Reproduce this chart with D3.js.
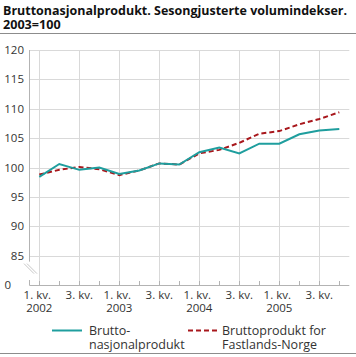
<!DOCTYPE html>
<html><head><meta charset="utf-8">
<script src="https://cdn.jsdelivr.net/npm/d3@7"></script>
<style>
body{margin:0;background:#fff;}
svg{display:block;font-family:"Open Sans",sans-serif;}
</style></head>
<body><svg id="c" width="356" height="357"></svg>
<script>
const quarters = ["2002K1","2002K2","2002K3","2002K4","2003K1","2003K2","2003K3","2003K4","2004K1","2004K2","2004K3","2004K4","2005K1","2005K2","2005K3","2005K4"];
const bnp = [98.4,100.6,99.6,100.0,98.9,99.5,100.7,100.5,102.6,103.4,102.4,104.05,104.05,105.65,106.3,106.55];
const fastland = [98.8,99.6,100.1,99.7,98.7,99.5,100.7,100.5,102.4,103.0,104.2,105.75,106.2,107.35,108.25,109.4];
const yTicks = [85,90,95,100,105,110,115,120];
const xLabelQuarter = {"2002K1":["1. kv.","2002"],"2002K3":["3. kv."],"2003K1":["1. kv.","2003"],"2003K3":["3. kv."],"2004K1":["1. kv.","2004"],"2004K3":["3. kv."],"2005K1":["1. kv.","2005"],"2005K3":["3. kv."]};
const seriesNames = [["Brutto-","nasjonalprodukt"],["Bruttoprodukt for","Fastlands-Norge"]];
const titleLines = ["Bruttonasjonalprodukt. Sesongjusterte volumindekser.","2003=100"];

const svg = d3.select("#c");
const x = d3.scaleBand().domain(quarters).range([29.3, 349.3]).paddingInner(0).paddingOuter(0);
const xc = q => x(q) + x.bandwidth()/2;
const y = d3.scaleLinear().domain([80,120]).range([285, 50]);
const gridC = "#d9d9d9", axisC = "#b3b3b3", textC = "#333";

// title (one text element, two tspans)
const tt = svg.append("text").attr("font-size", 12.6).attr("font-weight", "bold").attr("fill", "#111");
titleLines.forEach((d,i)=>{
  const ts = tt.append("tspan").attr("x", 3).attr("y", 15+i*14).text(d);
  if(i===0) ts.attr("textLength",344).attr("lengthAdjust","spacingAndGlyphs");
});
svg.append("line").attr("x1",0).attr("x2",356).attr("y1",33.5).attr("y2",33.5).attr("stroke","#8c8c8c").attr("stroke-width",1);
svg.append("line").attr("x1",0).attr("x2",356).attr("y1",353.5).attr("y2",353.5).attr("stroke","#8c8c8c").attr("stroke-width",1);

// horizontal grid
svg.append("g").selectAll("line").data(yTicks).join("line")
  .attr("x1", 29.3).attr("x2", 349.3)
  .attr("y1", d=>Math.round(y(d))+0.5).attr("y2", d=>Math.round(y(d))+0.5)
  .attr("stroke", gridC);
// vertical grid at labeled quarters
const labeled = quarters.filter(q=>xLabelQuarter[q]);
svg.append("g").selectAll("line").data(labeled).join("line")
  .attr("x1", d=>Math.round(xc(d))+0.5).attr("x2", d=>Math.round(xc(d))+0.5)
  .attr("y1", y(120)).attr("y2", y(80))
  .attr("stroke", gridC);

// y axis line with break
svg.append("line").attr("x1",29.5).attr("x2",29.5).attr("y1",y(120)).attr("y2",y(85)+6).attr("stroke",axisC);
svg.append("line").attr("x1",29.5).attr("x2",29.5).attr("y1",y(80)-5).attr("y2",y(80)).attr("stroke",axisC);
[0,3].forEach(o=>{
  svg.append("line").attr("x1",24+o).attr("y1",y(85)+8).attr("x2",34+o).attr("y2",y(85)+18)
    .attr("stroke","#c8c8c8").attr("stroke-width",1);
});
// x axis
const xAxis = d3.axisBottom(x).tickSize(0).tickFormat("");
const gx = svg.append("g").attr("transform", `translate(0,${y(80)+0.5})`).call(xAxis);
gx.select(".domain").attr("stroke", axisC).attr("d", "M29.3,0H349.3");
svg.append("g").selectAll("line").data(quarters).join("line")
  .attr("x1", d=>Math.round(xc(d))+0.5).attr("x2", d=>Math.round(xc(d))+0.5)
  .attr("y1", y(80)-4).attr("y2", y(80))
  .attr("stroke", axisC);

// y labels
const yl = svg.append("g").attr("font-size", 11.5).attr("fill", textC).attr("text-anchor","end");
yl.selectAll("text").data(yTicks).join("text")
  .attr("x", 24).attr("y", d=>y(d)+4).text(d=>d);
yl.append("text").attr("x", 11).attr("y", y(80)+4).text("0");

// x labels
const xl = svg.append("g").attr("font-size", 11.5).attr("fill", textC).attr("text-anchor","middle");
labeled.forEach(q=>{
  const t = xl.append("text");
  xLabelQuarter[q].forEach((s,i)=>{
    t.append("tspan").attr("x", xc(q) + (i===0 && xLabelQuarter[q].length>1 ? -2 : 0)).attr("y", 298.5 + i*13).text(s);
  });
});

// lines
const line = d3.line().x((d,i)=>xc(quarters[i])).y(d=>y(d));
svg.append("path").datum(fastland).attr("d", line).attr("fill","none")
  .attr("stroke","#a8171c").attr("stroke-width",2).attr("stroke-dasharray","5,3");
svg.append("path").datum(bnp).attr("d", line).attr("fill","none")
  .attr("stroke","#1f9e9e").attr("stroke-width",2);

// legend
const lg = svg.append("g").attr("font-size", 12.5).attr("fill", textC);
lg.append("line").attr("x1",52).attr("x2",82).attr("y1",330.5).attr("y2",330.5).attr("stroke","#1f9e9e").attr("stroke-width",2);
lg.append("line").attr("x1",188).attr("x2",218).attr("y1",330.5).attr("y2",330.5).attr("stroke","#a8171c").attr("stroke-width",2).attr("stroke-dasharray","5,3");
[89,222].forEach((lx,k)=>{
  const t = lg.append("text");
  seriesNames[k].forEach((s,i)=>t.append("tspan").attr("x",lx).attr("y",335+i*14).text(s));
});
</script></body></html>
